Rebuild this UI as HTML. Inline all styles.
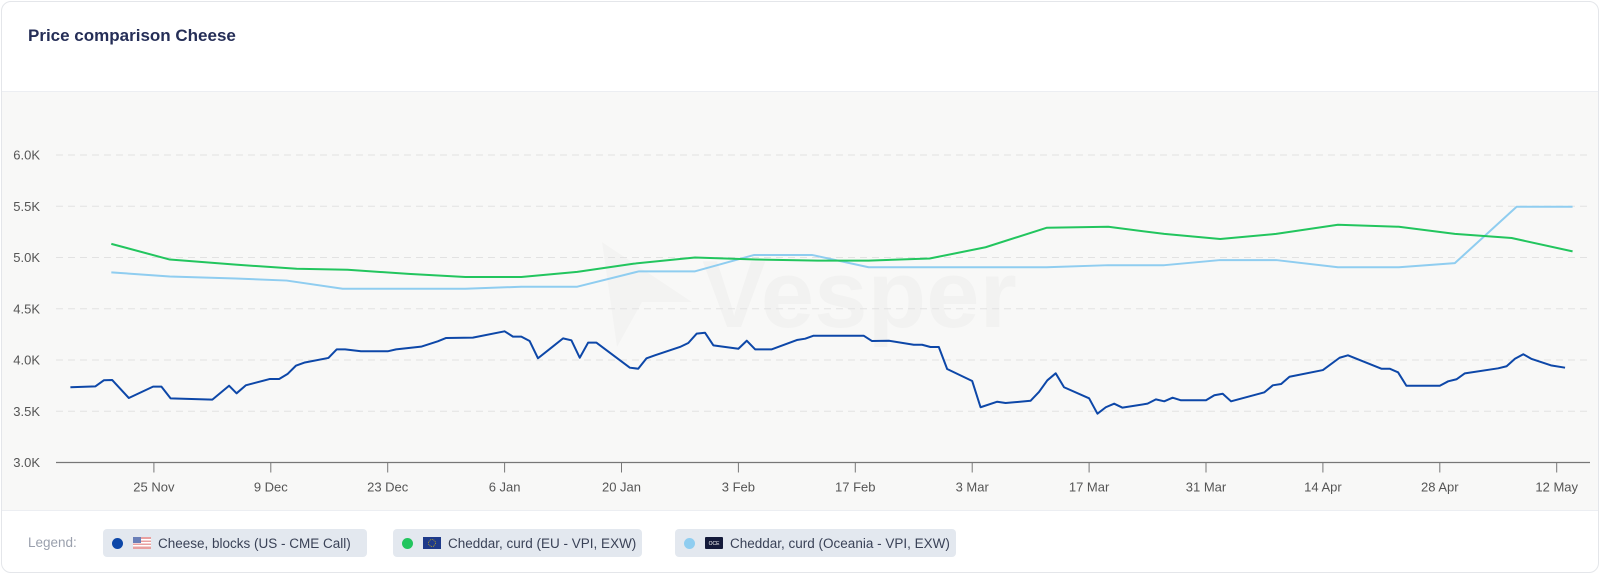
<!DOCTYPE html>
<html><head><meta charset="utf-8"><style>
body{margin:0;width:1600px;height:573px;background:#fff;font-family:"Liberation Sans",sans-serif;overflow:hidden}
.card{position:absolute;left:1px;top:1px;width:1596px;height:570px;border:1px solid #e4e6ea;border-radius:10px;background:#fff;overflow:hidden}
.title{position:absolute;left:26px;top:24px;font-size:17px;font-weight:bold;color:#252e57}
.plotbg{position:absolute;left:0;top:89px;width:1596px;height:418px;background:#f8f8f7;border-top:1px solid #eceef2;border-bottom:1px solid #eceef2}
.legend{position:absolute;top:527px;left:0;width:1596px;height:28px;font-size:13.5px;color:#3a4257}
.lg-label{position:absolute;left:26px;top:6px;color:#9aa0ad}
.pill{position:absolute;top:0;height:28px;background:#e3e8ef;border-radius:4px;display:flex;align-items:center}
.dot{width:11px;height:11px;border-radius:50%;margin:0 10px 0 9px}
.flag{width:18px;height:12px;margin-right:7px}
</style></head><body>
<div class="card">
<div class="title">Price comparison Cheese</div>
<div class="plotbg"></div>
<svg id="chart" width="1596" height="520" style="position:absolute;left:0;top:0"></svg>
<div class="legend">
<span class="lg-label">Legend:</span>
<div class="pill" style="left:101px;width:264px"><span class="dot" style="background:#0d47a8"></span><svg class="flag" viewBox="0 0 18 12"><rect width="18" height="12" fill="#e8a0a0"/><rect y="2" width="18" height="1.5" fill="#fff"/><rect y="5" width="18" height="1.5" fill="#fff"/><rect y="8" width="18" height="1.5" fill="#fff"/><rect width="8" height="6" fill="#6a7fb8"/></svg>Cheese, blocks (US - CME Call)</div>
<div class="pill" style="left:391px;width:249px"><span class="dot" style="background:#22c55e"></span><svg class="flag" viewBox="0 0 18 12"><rect width="18" height="12" fill="#1e3a8a"/><circle cx="9" cy="6" r="3.5" fill="none" stroke="#e5c100" stroke-width="0.8" stroke-dasharray="0.8 1"/></svg>Cheddar, curd (EU - VPI, EXW)</div>
<div class="pill" style="left:673px;width:281px"><span class="dot" style="background:#8fcdf0"></span><svg class="flag" viewBox="0 0 18 12"><rect width="18" height="12" rx="1" fill="#141a3a"/><text x="9" y="8" font-size="5" fill="#fff" text-anchor="middle" font-family="Liberation Sans">OCE</text></svg>Cheddar, curd (Oceania - VPI, EXW)</div>
</div>
</div>
<script>
// day offsets from 25 Nov
const usDays=[-10,-7,-6,-5,-3,-0.1,0.9,2,7,9,9.9,11,13.9,15,16,17,18,20.9,21.9,22.9,24.8,28,29,32,34,35,38.2,42,43,44,45,46,47.6,49,50,51,52,53,57,58,59,60,63,64,65,66,67,70,71,72,74,77,78,79,85,86,88,91,92,93,94,95,98,99,101,102,105,106,107,108,109,112,113,114,115,116,119,120,121,122,123,126,127,128,129,133,134,135,136,140,142,143,147,148,149,150,154,155,156,157,161,162,163,164,165,167.3,169];
const usVals=[3734,3743,3802,3805,3629,3740,3740,3626,3613,3749,3675,3753,3815,3815,3863,3944,3974,4020,4104,4104,4085,4085,4104,4130,4182,4215,4218,4280,4228,4228,4185,4017,4120,4211,4192,4022,4169,4169,3925,3915,4017,4046,4127,4166,4257,4266,4143,4110,4188,4104,4104,4195,4208,4237,4237,4185,4188,4149,4149,4127,4127,3912,3795,3539,3593,3580,3603,3688,3802,3870,3734,3626,3476,3539,3574,3535,3574,3616,3597,3632,3607,3607,3656,3671,3597,3685,3753,3766,3837,3902,4022,4046,3915,3915,3880,3749,3749,3792,3812,3870,3919,3939,4012,4056,4010,3948,3925];
const euDays=[-5.1,1.9,9.8,17.1,23.2,30.5,37.3,44,50.7,57.5,64.8,72.1,79.5,85.6,92.9,99.6,106.9,114.3,121,127.7,134.4,141.8,149.1,155.8,162.6,169.9];
const euVals=[5133,4980,4930,4890,4880,4840,4810,4810,4860,4940,5000,4980,4970,4970,4990,5100,5290,5300,5230,5180,5230,5320,5300,5230,5190,5060];
const ocDays=[-5.1,1.9,9.8,15.9,22.6,30,37.3,44,50.7,58.1,64.8,71.9,78.8,85.6,92.9,99.6,106.9,114.3,121,127.7,134.4,141.8,149.1,155.8,163.2,169.9];
const ocVals=[4855,4815,4795,4775,4695,4695,4695,4715,4715,4865,4865,5025,5025,4905,4905,4905,4905,4925,4925,4975,4975,4905,4905,4945,5495,5495];
const yTicks=[3000,3500,4000,4500,5000,5500,6000];
const yTickLabels=["3.0K","3.5K","4.0K","4.5K","5.0K","5.5K","6.0K"];
const xTickDays=[0,14,28,42,56,70,84,98,112,126,140,154,168];
const xTickLabels=["25 Nov","9 Dec","23 Dec","6 Jan","20 Jan","3 Feb","17 Feb","3 Mar","17 Mar","31 Mar","14 Apr","28 Apr","12 May"];

const NS="http://www.w3.org/2000/svg";
const svg=document.getElementById('chart');
const X=d=>151.9+d*8.35;
const Y=v=>460.5-(v-3000)*0.1025;
function mk(t,a){const e=document.createElementNS(NS,t);for(const k in a)e.setAttribute(k,a[k]);svg.appendChild(e);return e;}

// watermark
const wm=mk('text',{x:700,y:325,'font-size':96,'font-weight':'bold',fill:'#000','fill-opacity':0.025,'font-family':'Liberation Sans'});
wm.textContent='Vesper';


const wa=mk('polygon',{points:'600,240 690,300 640,300 615,345',fill:'#000','fill-opacity':0.018});



yTicks.forEach((v,i)=>{
  if(i>0){const g=mk('line',{x1:54,x2:1588,y1:Y(v),y2:Y(v),stroke:'#e2e2e2','stroke-width':1,'stroke-dasharray':'7 5'});
  
  }
  const t=mk('text',{x:38,y:Y(v)+4.5,'text-anchor':'end','font-size':13,fill:'#555','font-family':'Liberation Sans'});
  t.textContent=yTickLabels[i];
  
  
});
const ax=mk('line',{x1:54,x2:1588,y1:Y(3000),y2:Y(3000),stroke:'#777','stroke-width':1.3});


xTickDays.forEach((d,i)=>{
  const tk=mk('line',{x1:X(d),x2:X(d),y1:Y(3000),y2:Y(3000)+10,stroke:'#777','stroke-width':1});
  
  
  const t=mk('text',{x:X(d),y:Y(3000)+29,'text-anchor':'middle','font-size':13,fill:'#555','font-family':'Liberation Sans'});
  t.textContent=xTickLabels[i];
  
  
});
function line(days,vals,color,name){
  const p=mk('polyline',{points:days.map((d,i)=>X(d)+','+Y(vals[i])).join(' '),fill:'none',stroke:color,'stroke-width':2,'stroke-linejoin':'round'});
  
  
}
line(ocDays,ocVals,'#8fcdf0','series-oceania-cheddar');
line(euDays,euVals,'#22c55e','series-eu-cheddar');
line(usDays,usVals,'#0d47a8','series-us-cheese-blocks');
</script>
</body></html>
